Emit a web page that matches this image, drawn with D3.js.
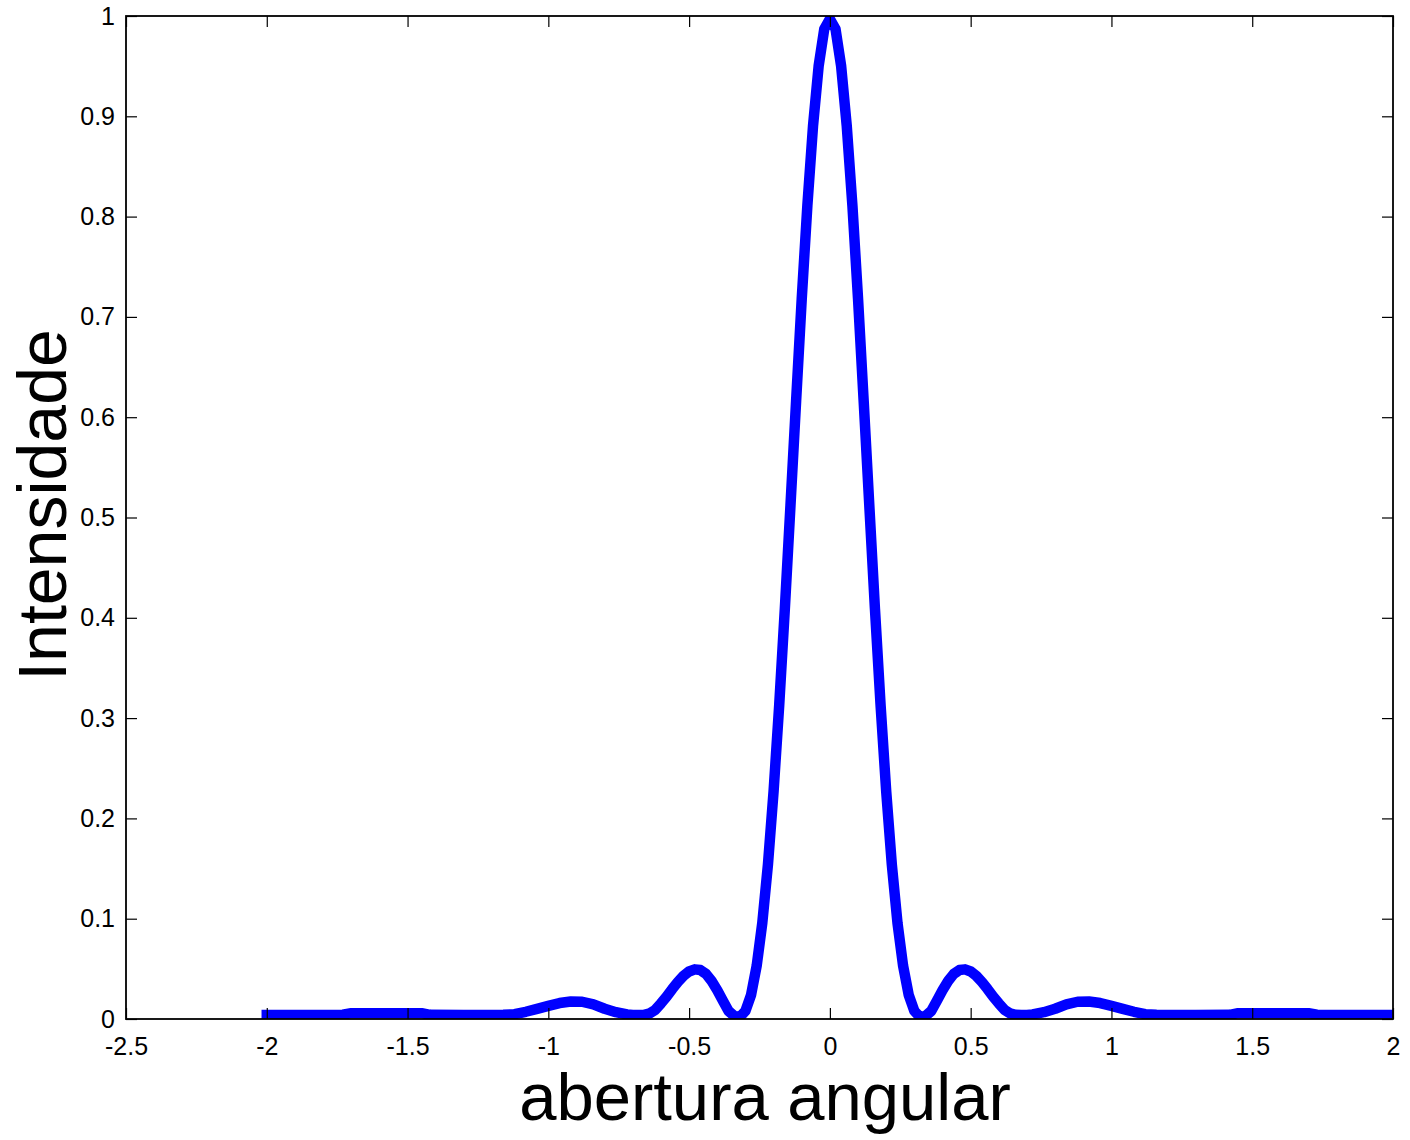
<!DOCTYPE html>
<html>
<head>
<meta charset="utf-8">
<script src="https://cdn.jsdelivr.net/npm/d3@7"></script>
<style>
  html, body { margin: 0; padding: 0; background: #fff; }
  svg { display: block; }
  text { font-family: "Liberation Sans", Arial, Helvetica, sans-serif; fill: #000; }
</style>
</head>
<body>
<svg id="chart" width="1410" height="1140"></svg>
<script>
// ---- data ----
const angle = [
  -2.00, -1.90, -1.80, -1.73, -1.70, -1.60, -1.45, -1.42, -1.30, -1.20, -1.16, -1.12,
  -1.08, -1.04, -1.00, -0.96, -0.92, -0.88, -0.84, -0.80, -0.76, -0.72, -0.70, -0.68,
  -0.66, -0.64, -0.62, -0.60, -0.58, -0.56, -0.54, -0.52, -0.50, -0.48, -0.46, -0.44,
  -0.42, -0.40, -0.38, -0.36, -0.34, -0.32, -0.30, -0.28, -0.26, -0.24, -0.22, -0.20,
  -0.18, -0.16, -0.14, -0.12, -0.10, -0.08, -0.06, -0.04, -0.02,
  0.00,
  0.02, 0.04, 0.06, 0.08, 0.10, 0.12, 0.14, 0.16, 0.18, 0.20, 0.22, 0.24,
  0.26, 0.28, 0.30, 0.32, 0.34, 0.36, 0.38, 0.40, 0.42, 0.44, 0.46, 0.48,
  0.50, 0.52, 0.54, 0.56, 0.58, 0.60, 0.62, 0.64, 0.66, 0.68, 0.70, 0.72,
  0.76, 0.80, 0.84, 0.88, 0.92, 0.96, 1.00, 1.04, 1.08, 1.12, 1.16, 1.20,
  1.30, 1.42, 1.45, 1.60, 1.70, 1.73, 1.80, 1.90, 2.00
];
const intensity = [
  0.0040, 0.0040, 0.0040, 0.0043, 0.0058, 0.0058, 0.0058, 0.0042, 0.0040, 0.0040, 0.0042, 0.0048,
  0.0072, 0.0101, 0.0131, 0.0159, 0.0175, 0.0172, 0.0145, 0.0102, 0.0068, 0.0045, 0.0040, 0.0040,
  0.0042, 0.0055, 0.0092, 0.0155, 0.0222, 0.0298, 0.0369, 0.0430, 0.0474, 0.0495, 0.0488, 0.0450,
  0.0378, 0.0287, 0.0183, 0.0080, 0.0030, 0.0020, 0.0080, 0.0240, 0.0530, 0.0960, 0.1540, 0.2270,
  0.3130, 0.4090, 0.5120, 0.6160, 0.7180, 0.8110, 0.8900, 0.9500, 0.9870,
  0.9970,
  0.9870, 0.9500, 0.8900, 0.8110, 0.7180, 0.6160, 0.5120, 0.4090, 0.3130, 0.2270, 0.1540, 0.0960,
  0.0530, 0.0240, 0.0080, 0.0020, 0.0030, 0.0080, 0.0183, 0.0287, 0.0378, 0.0450, 0.0488, 0.0495,
  0.0474, 0.0430, 0.0369, 0.0298, 0.0222, 0.0155, 0.0092, 0.0055, 0.0042, 0.0040, 0.0040, 0.0045,
  0.0068, 0.0102, 0.0145, 0.0172, 0.0175, 0.0159, 0.0131, 0.0101, 0.0072, 0.0048, 0.0042, 0.0040,
  0.0040, 0.0042, 0.0058, 0.0058, 0.0058, 0.0043, 0.0040, 0.0040, 0.0040
];
const xTicks = [-2.5, -2, -1.5, -1, -0.5, 0, 0.5, 1, 1.5, 2];
const xTickLabels = ["-2.5", "-2", "-1.5", "-1", "-0.5", "0", "0.5", "1", "1.5", "2"];
const yTicks = [0, 0.1, 0.2, 0.3, 0.4, 0.5, 0.6, 0.7, 0.8, 0.9, 1];
const yTickLabels = ["0", "0.1", "0.2", "0.3", "0.4", "0.5", "0.6", "0.7", "0.8", "0.9", "1"];
const xTitle = "abertura angular";
const yTitle = "Intensidade";

// ---- layout ----
const plot = { left: 126, right: 1393, top: 16, bottom: 1019 };
const svg = d3.select("#chart");

const x = d3.scaleLinear().domain([-2.5, 2]).range([plot.left, plot.right]);
const y = d3.scaleLinear().domain([0, 1]).range([plot.bottom, plot.top]);

svg.append("defs").append("clipPath").attr("id", "clip")
  .append("rect")
  .attr("x", plot.left).attr("y", plot.top)
  .attr("width", plot.right - plot.left).attr("height", plot.bottom - plot.top);

const points = angle.map((a, i) => [a, intensity[i]]);
const line = d3.line().x(d => x(d[0])).y(d => y(d[1]));

svg.append("path")
  .datum(points)
  .attr("clip-path", "url(#clip)")
  .attr("d", line)
  .attr("fill", "none")
  .attr("stroke", "#0000ff")
  .attr("stroke-width", 10.5)
  .attr("stroke-linejoin", "round")
  .attr("stroke-linecap", "square");

const tickLen = 11;
const fontSize = 25;

// bottom axis
const gx = svg.append("g").attr("transform", `translate(0,${plot.bottom})`)
  .call(d3.axisBottom(x).tickValues(xTicks).tickFormat((d, i) => xTickLabels[i])
    .tickSizeInner(-tickLen).tickSizeOuter(0).tickPadding(18));
// left axis
const gy = svg.append("g").attr("transform", `translate(${plot.left},0)`)
  .call(d3.axisLeft(y).tickValues(yTicks).tickFormat((d, i) => yTickLabels[i])
    .tickSizeInner(-tickLen).tickSizeOuter(0).tickPadding(11));
// top axis (ticks only)
const gt = svg.append("g").attr("transform", `translate(0,${plot.top})`)
  .call(d3.axisTop(x).tickValues(xTicks).tickFormat("")
    .tickSizeInner(-tickLen).tickSizeOuter(0));
// right axis (ticks only)
const gr = svg.append("g").attr("transform", `translate(${plot.right},0)`)
  .call(d3.axisRight(y).tickValues(yTicks).tickFormat("")
    .tickSizeInner(-tickLen).tickSizeOuter(0));

[gx, gy, gt, gr].forEach(g => {
  g.select(".domain").remove();
  g.selectAll(".tick line").attr("stroke", "#000").attr("stroke-width", 1.2);
  g.selectAll(".tick text")
    .style("font-family", '"Liberation Sans", Arial, Helvetica, sans-serif')
    .style("font-size", fontSize + "px")
    .attr("fill", "#000");
});

// box
svg.append("rect")
  .attr("x", plot.left).attr("y", plot.top)
  .attr("width", plot.right - plot.left).attr("height", plot.bottom - plot.top)
  .attr("fill", "none").attr("stroke", "#000").attr("stroke-width", 1.8);

// titles
svg.append("text")
  .attr("x", 765).attr("y", 1120)
  .attr("text-anchor", "middle")
  .style("font-size", "67px")
  .text(xTitle);

svg.append("text")
  .attr("transform", "translate(66,505) rotate(-90)")
  .attr("text-anchor", "middle")
  .style("font-size", "68px")
  .text(yTitle);
</script>
</body>
</html>
